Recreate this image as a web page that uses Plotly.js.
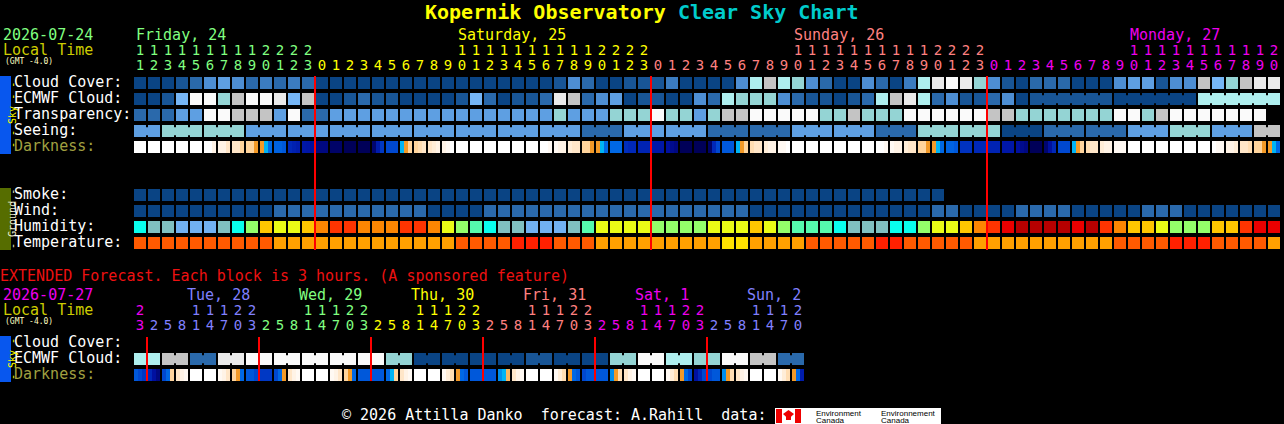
<!DOCTYPE html>
<html><head><meta charset="utf-8">
<script src="https://cdn.plot.ly/plotly-3.0.1.min.js"></script>
<style>html,body{margin:0;padding:0;background:#000;}#chart{width:1284px;height:424px;}</style>
</head><body><div id="chart"></div>
<script>
// ================= DATA =================
const siteName = 'Kopernik Observatory';
const chartName = 'Clear Sky Chart';
const firstDate = '2026-07-24';
const extDate = '2026-07-27';
const tzLabel = '(GMT -4.0)';
const startHour = 11;           // first hourly column (Friday 11h)
const dayNames = ['Friday, 24', 'Saturday, 25', 'Sunday, 26', 'Monday, 27'];
const dayColors = ['#80ff80', '#ffff00', '#ff8080', '#ee00ee'];
const extStartHour = 23;        // extended forecast first block (Monday 23h)
const extStep = 3;
const extDayNames = ['', 'Tue, 28', 'Wed, 29', 'Thu, 30', 'Fri, 31', 'Sat, 1', 'Sun, 2'];
const extDayColors = ['#ee00ee', '#8080ff', '#80ff80', '#ffff00', '#ff8080', '#ee00ee', '#8080ff'];

// sky palette level 0 (clear) .. 11 (overcast)
const skyColors = ['#0A4484', '#185596', '#2A69AB', '#3B7CC0', '#4D8ED3', '#5E9FE2',
                   '#76B6F6', '#94D4D4', '#AEEEEE', '#C4C4C4', '#EAEAEA', '#FAFAFA'];
const cloudCover = [
  0,0,0,1,2,4,5,4,2,3,2,3,2,
  0,0,0,0,0,0,0,0,0,0,0,0,0,0,0,0,0,1,4,2,0,0,1,1,
  1,3,0,0,0,0,4,8,9,8,7,4,2,0,0,4,2,0,3,8,10,11,10,7,
  4,1,0,2,2,2,0,0,0,4,5,5,1,4,4,9,6,7,9,10,10];
const ecmwfCloud = [
  0,0,1,6,11,11,7,9,11,11,10,6,9,
  0,0,1,2,1,1,0,0,0,0,1,6,2,0,1,1,2,10,9,2,4,5,0,1,
  1,0,0,4,2,8,7,7,7,4,2,1,1,0,1,2,8,9,10,8,2,4,1,1,
  2,4,0,1,1,1,1,1,1,0,0,0,0,0,0,8,8,8,8,8,8];
const ecmwfSixHourFrom = 64;    // ECMWF becomes 6-hourly from this column
const transparency = [
  2,2,2,5,5,11,11,9,9,9,5,11,2,
  2,5,5,5,5,5,5,5,5,5,5,5,5,5,5,5,5,7,5,5,5,7,7,
  7,11,7,7,5,7,9,9,11,11,11,11,11,7,7,9,7,7,7,11,11,11,11,11,
  11,9,9,7,7,7,7,7,7,7,11,11,7,9,11,11,11,11,11,11,11];
// seeing 1 (bad) .. 5 (excellent)
const seeingColors = ['#FAFAFA', '#C4C4C4', '#94D4D4', '#5E9FE2', '#2A69AB', '#0A4484'];
const seeing = [
  3,3,2,2,2,2,2,2,3,3,3,3,3,
  3,3,3,3,3,3,3,3,3,3,3,3,3,3,3,3,3,3,3,4,4,4,3,3,
  3,3,3,3,4,4,4,4,4,4,3,3,3,3,3,3,4,4,4,2,2,2,2,2,
  2,5,5,5,4,4,4,4,4,4,3,3,3,2,2,2,3,3,3,1,1];
// darkness per hour, three readings across each hour (0 = daylight .. 10 = darkest)
const darkness = [
  [0,0,0],[0,0,0],[0,0,0],[0,0,0],[0,0,0],[0,0,1],[1,1,2],[2,2,3],[3,3,4],[4,5,6],[6.2,6.2,6.5],[8,8.3,8.5],[8.7,8.8,9],
  [9.5,9.5,9.5],[9.8,9.8,9.8],[10,10,10],[10,10,10],[9.7,8.5,7.5],[7,7,7],[5,4,3],[3,2.5,2],[2,1.5,1],[1,0.5,0],
  [0,0,0],[0,0,0],[0,0,0],[0,0,0],[0,0,0],[0,0,0],[0,0,0.5],[0.5,1,1],[1.5,2,2],[3,3,4],[4,5,6],[6,6,6],[7.8,8,8],[8.2,8.2,8.2],
  [8.7,8.7,8.7],[9,9.3,9.5],[10,10,10],[10,10,10],[9.8,8,7],[6.5,6.5,6.5],[5,4,3],[2.5,2,2],[1.5,1,1],[0.5,0.5,0],
  [0,0,0],[0,0,0],[0,0,0],[0,0,0],[0,0,0],[0,0,0],[0,0,0.5],[0.5,1,1],[1.5,2,2],[3,3,4],[4,5,6],[6.2,6.2,6.5],[7.7,7.7,7.7],[8,8,8],
  [8.2,8.2,8.2],[8.7,8.7,8.7],[9,9.3,9.5],[10,10,10],[9.7,9,8],[7,7,7],[5,4,3],[2.5,2,2],[1.5,1,1],[0.5,0.5,0.5],
  [0,0,0],[0,0,0],[0,0,0],[0,0,0],[0,0,0],[0,0,0],[0,0.5,0.5],[1,1,1.5],[2,2,2.5],[3,3,4],[4,5,6]];
const smokeColors = ['#0A4484'];
const smoke = [
  0,0,0,0,0,0,0,0,0,0,0,0,0,
  0,0,0,0,0,0,0,0,0,0,0,0,0,0,0,0,0,0,0,0,0,0,0,0,
  0,0,0,0,0,0,0,0,0,0,0,0,0,0,0,0,0,0,0,0,0];
const windColors = ['#0A4484', '#2A69AB'];   // 0-5 mph, 6-11 mph
const wind = [
  0,0,0,0,0,0,0,0,0,0,1,1,1,
  1,1,1,1,1,1,1,1,0,0,0,0,1,1,1,1,1,1,1,1,1,1,1,1,
  1,1,1,1,1,1,1,0,0,0,0,0,0,0,0,0,0,0,0,0,1,1,0,0,
  0,0,1,1,1,1,0,0,0,0,0,1,1,1,0,0,0,0,0,0,0];
// relative humidity (%), 5% bins from 40%
const humColors = ['#71B1F1', '#80C0C0', '#09FEED', '#55FAAD', '#94FE6A', '#EAFB16',
                   '#FEC600', '#FC8602', '#FE3401', '#EA0000', '#B70000'];
const humidity = [
  52,47,47,42,42,42,47,52,62,72,67,67,72,
  77,82,82,77,77,77,82,82,77,67,62,57,52,47,47,42,42,42,47,57,67,67,67,67,
  62,62,62,62,67,67,67,72,67,62,57,57,57,52,47,47,47,52,52,62,67,67,72,77,
  82,87,92,92,92,92,87,92,82,77,72,72,67,62,62,62,72,72,82,87,87];
// temperature class: 0 cool .. 3 hot
const tempColors = ['#FFE000', '#FFA000', '#FF5A00', '#FF2000'];
const temperature = [
  2,2,2,2,2,2,2,2,2,2,1,1,1,
  1,1,1,1,1,1,1,1,1,1,2,2,2,2,3,3,3,2,2,2,1,1,1,1,
  1,1,1,1,1,0,0,1,1,1,1,2,2,2,2,2,3,3,2,2,2,2,2,1,
  1,1,1,1,1,1,1,1,1,2,2,2,2,3,3,3,2,2,2,2,1];
// extended (3-hour blocks)
const extEcmwf = [8,8,9,9,2,2,10,10,11,11,11,11,11,11,11,11,11,11,7,7,0,0,0,0,
                  0,0,0,0,1,1,0,0,0,0,7,7,11,11,8,8,7,7,11,11,9,9,2,2];
const extDarkness = [
  [6.5,7,7.5],
  [8,9,9.5],[7,6,3],[2,1,0.5],[0,0,0],[0,0,0],[0.5,1,2],[3,4,6],[6.5,6.5,7],
  [7.5,7.5,7.5],[7,6,4],[2,1,0.5],[0,0,0],[0,0,0],[0.5,1,2],[3,4,6],[6.5,6.5,6.5],
  [6.5,6.5,6.5],[6,5,3],[2,1,0.5],[0,0,0],[0,0,0],[0.5,1.5,2.5],[4,6,6.5],[6.5,6.5,6.5],
  [6.5,6.5,6.5],[5.5,5,3.5],[2,1,0.5],[0,0,0],[0,0,0],[0.5,1.5,2.5],[4,6,6.5],[7,6.5,6.5],
  [6.5,6.5,6.5],[5.5,4,2.5],[2,1,0.5],[0,0,0],[0,0,0],[0.5,1.5,2.5],[4,6,7],[9,8,7],
  [7,6.5,6.5],[5.5,4,2.5],[2,1,0.5],[0,0,0],[0,0,0],[0.5,1.5,2.5],[4,6,8.5]];
const darkScale = [[0,'#ffffff'],[0.1,'#fff3e6'],[0.2,'#ffe6c8'],[0.3,'#ffd49c'],[0.4,'#f39a28'],
  [0.5,'#00b4f4'],[0.6,'#0068e4'],[0.7,'#0048d0'],[0.8,'#0028b8'],[0.9,'#0010a0'],[0.95,'#000880'],[1,'#000058']];

// ================= LAYOUT HELPERS =================
const W = 1284, H = 424, X0 = 134, PITCH = 14, CELL = 12, CELLH = 12;
const FONT = '"DejaVu Sans Mono", monospace';
const cw = CELL / PITCH;
const traces = [], annotations = [], shapes = [];

function discreteScale(colors) {
  const n = colors.length, s = [];
  colors.forEach((c, k) => { s.push([k / n, c]); s.push([(k + 1) / n, c]); });
  return s;
}
function edges(n, parts) {
  const e = [];
  for (let i = 0; i < n; i++) { for (let p = 0; p < parts; p++) e.push(i + cw * p / parts); e.push(i + cw); }
  e.push(n); return e;
}
function cellRow(vals, yc, colors) {
  const z = []; vals.forEach(v => { z.push(v); z.push(null); });
  traces.push({type: 'heatmap', x: edges(vals.length, 1), y: [yc - CELLH / 2, yc + CELLH / 2], z: [z],
    colorscale: discreteScale(colors), zmin: -0.5, zmax: colors.length - 0.5, showscale: false,
    hoverinfo: 'skip', zsmooth: false});
}
function bridgeRow(vals, yc, colors, joined) {
  const z = [];
  vals.forEach((v, i) => { z.push(null); z.push(i < vals.length - 1 && joined(i) && vals[i + 1] === v ? v : null); });
  traces.push({type: 'heatmap', x: edges(vals.length, 1), y: [yc - 3.75, yc + 3.75], z: [z],
    colorscale: discreteScale(colors), zmin: -0.5, zmax: colors.length - 0.5, showscale: false,
    hoverinfo: 'skip', zsmooth: false});
}
function darkRow(triples, yc) {
  const z = []; triples.forEach(t => { z.push(t[0], t[1], t[2], null); });
  traces.push({type: 'heatmap', x: edges(triples.length, 3), y: [yc - CELLH / 2, yc + CELLH / 2], z: [z],
    colorscale: darkScale, zmin: 0, zmax: 10, showscale: false, hoverinfo: 'skip', zsmooth: false});
}
function label(text, px, py, color, size, extra) {
  annotations.push(Object.assign({text: text, xref: 'paper', yref: 'y', x: px / W, y: py,
    xanchor: 'left', yanchor: 'middle', showarrow: false, borderpad: 0,
    font: {family: FONT, size: size || 15, color: color || '#ffffff'}}, extra || {}));
}
function rectPx(x0, y0, x1, y1, color) {
  shapes.push({type: 'rect', xref: 'paper', yref: 'y', x0: x0 / W, x1: x1 / W, y0: y0, y1: y1,
    fillcolor: color, line: {width: 0}, layer: 'below'});
}
function dayLine(col, y0, y1) {
  traces.push({type: 'scatter', mode: 'lines', x: [col - 1 / PITCH, col - 1 / PITCH], y: [y0, y1],
    line: {color: '#ff0000', width: 2}, hoverinfo: 'skip', showlegend: false});
}
function digitRow(cols, texts, y, color) {
  traces.push({type: 'scatter', mode: 'text', x: cols.map(i => i + cw / 2), y: cols.map(() => y),
    text: texts, textposition: 'middle center', textfont: {family: FONT, size: 14, color: color},
    hoverinfo: 'skip', showlegend: false, cliponaxis: false});
}

// ================= UPPER (hourly) SECTION =================
const rowY = k => 83 + 16 * k;
cellRow(cloudCover, rowY(0), skyColors);
cellRow(ecmwfCloud, rowY(1), skyColors);
bridgeRow(ecmwfCloud, rowY(1), skyColors, i => i >= ecmwfSixHourFrom && (i - ecmwfSixHourFrom + 1) % 6 !== 0);
cellRow(transparency, rowY(2), skyColors);
cellRow(seeing, rowY(3), seeingColors);
bridgeRow(seeing, rowY(3), seeingColors, i => (startHour + i + 1) % 3 !== 1);
darkRow(darkness, rowY(4));
cellRow(smoke, rowY(7), smokeColors);
cellRow(wind, rowY(8), windColors);
cellRow(humidity.map(h => Math.floor((h - 40) / 5)), rowY(9), humColors);
cellRow(temperature, rowY(10), tempColors);

const nUpper = cloudCover.length;
const upHour = i => (startHour + i) % 24;
const upDay = i => Math.floor((startHour + i) / 24);
for (let d = 0; d < dayNames.length; d++) {
  const cols = []; for (let i = 0; i < nUpper; i++) if (upDay(i) === d) cols.push(i);
  const tens = cols.filter(i => upHour(i) >= 10);
  digitRow(tens, tens.map(i => String(Math.floor(upHour(i) / 10))), 51, dayColors[d]);
  digitRow(cols, cols.map(i => String(upHour(i) % 10)), 66, dayColors[d]);
  if (tens.length) annotations.push({text: dayNames[d], xref: 'x', yref: 'y', x: tens[0] + 1 / PITCH, y: 35,
    xanchor: 'left', yanchor: 'middle', showarrow: false, borderpad: 0,
    font: {family: FONT, size: 15, color: dayColors[d]}});
  if (d > 0) dayLine(cols[0], 76, 250);
}

// ================= EXTENDED SECTION =================
const extY = {cloud: 343, ecmwf: 359, dark: 375};
cellRow(extEcmwf, extY.ecmwf, skyColors);
bridgeRow(extEcmwf, extY.ecmwf, skyColors, i => i % 2 === 0);
darkRow(extDarkness, extY.dark);
const nExt = extEcmwf.length;
const exHour = i => (extStartHour + extStep * i) % 24;
const exDay = i => Math.floor((extStartHour + extStep * i) / 24);
for (let d = 0; d < extDayNames.length; d++) {
  const cols = []; for (let i = 0; i < nExt; i++) if (exDay(i) === d) cols.push(i);
  if (!cols.length) continue;
  const tens = cols.filter(i => exHour(i) >= 10);
  digitRow(tens, tens.map(i => String(Math.floor(exHour(i) / 10))), 311, extDayColors[d]);
  digitRow(cols, cols.map(i => String(exHour(i) % 10)), 326, extDayColors[d]);
  if (extDayNames[d] && tens.length) annotations.push({text: extDayNames[d], xref: 'x', yref: 'y',
    x: tens[0] - 4.5 / PITCH, y: 295, xanchor: 'left', yanchor: 'middle', showarrow: false, borderpad: 0,
    font: {family: FONT, size: 15, color: extDayColors[d]}});
  if (d > 0) dayLine(cols[0], 337, 381);
}

// ================= TEXT =================
annotations.push({text: '<b><span style="color:#ffff00">' + siteName + '</span> <span style="color:#00cccc">' +
  chartName + '</span></b>', xref: 'paper', yref: 'y', x: 0.5, y: 11.5, xanchor: 'center', yanchor: 'middle',
  showarrow: false, borderpad: 0, font: {family: FONT, size: 20, color: '#ffff00'}});
const tight = {height: 14};
label(firstDate, 2, 35, '#80ff80', 15, tight);
label('Local Time', 2, 50, '#cccc00', 15, tight);
label(tzLabel, 4, 61.5, '#ffffc0', 8);
const upLabels = ['Cloud Cover:', 'ECMWF Cloud:', 'Transparency:', 'Seeing:', 'Darkness:'];
upLabels.forEach((t, k) => label(t, 13, rowY(k) - 1.5, t === 'Darkness:' ? '#a0a040' : '#ffffff'));
['Smoke:', 'Wind:', 'Humidity:', 'Temperature:'].forEach((t, k) => label(t, 13, rowY(7 + k) - 1.5, '#ffffff'));
label('EXTENDED Forecast. Each block is 3 hours. (A sponsored feature)', -1, 276, '#ee1111');
label(extDate, 2, 295, '#ee00ee', 15, tight);
label('Local Time', 2, 310, '#cccc00', 15, tight);
label(tzLabel, 4, 321.5, '#ffffc0', 8);
label('Cloud Cover:', 13, extY.cloud - 1.5, '#ffffff');
label('ECMWF Cloud:', 13, extY.ecmwf - 1.5, '#ffffff');
label('Darkness:', 13, extY.dark - 1.5, '#a0a040');

// side bars
rectPx(0, 76, 11, 154, '#0857ee');
rectPx(0, 188, 11, 250, '#566d00');
rectPx(0, 336, 11, 382, '#0857ee');
annotations.push({text: '- - Sky - -', xref: 'paper', yref: 'y', x: 5.5 / W, y: 115, textangle: -90,
  showarrow: false, borderpad: 0, font: {family: FONT, size: 10, color: '#ffff00'}});
annotations.push({text: '- Ground -', xref: 'paper', yref: 'y', x: 5.5 / W, y: 219, textangle: -90,
  showarrow: false, borderpad: 0, font: {family: FONT, size: 10, color: '#f0f0d0'}});
annotations.push({text: '- Sky -', xref: 'paper', yref: 'y', x: 5.5 / W, y: 359, textangle: -90,
  showarrow: false, borderpad: 0, font: {family: FONT, size: 10, color: '#ffff00'}});

// footer
label('\u00a9 2026 Attilla Danko\u00a0\u00a0forecast: A.Rahill\u00a0\u00a0data:', 341, 415, '#ffffff');
rectPx(775, 408, 941, 424, '#ffffff');
rectPx(776, 409, 782, 423, '#ee0000');
rectPx(795, 409, 801, 423, '#ee0000');
rectPx(786, 412, 791, 420, '#ee0000');
shapes.push({type: 'path', xref: 'paper', yref: 'y', layer: 'below',
  path: 'M ' + (783 / W) + ' 414 L ' + (788.5 / W) + ' 410 L ' + (794 / W) + ' 414 L ' + (788.5 / W) + ' 419 Z',
  fillcolor: '#ee0000', line: {width: 0}});
const sans = '"Liberation Sans", sans-serif';
[['Environment', 815, 413], ['Canada', 815, 420.5], ['Environnement', 880, 413], ['Canada', 880, 420.5]].forEach(a =>
  label(a[0], a[1], a[2], '#000000', 8, {font: {family: sans, size: 8, color: '#000000'}}));

// ================= RENDER =================
const layout = {
  width: W, height: H, margin: {l: 0, r: 0, t: 0, b: 0, pad: 0},
  paper_bgcolor: '#000000', plot_bgcolor: '#000000', showlegend: false,
  xaxis: {range: [(0 - X0) / PITCH, (W - X0) / PITCH], visible: false, fixedrange: true},
  yaxis: {range: [H, 0], visible: false, fixedrange: true},
  annotations: annotations, shapes: shapes
};
Plotly.newPlot('chart', traces, layout, {displayModeBar: false, staticPlot: true});
</script></body></html>
